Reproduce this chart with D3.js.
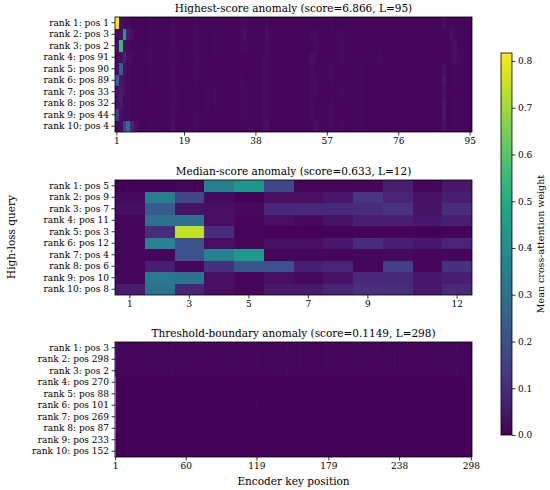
<!DOCTYPE html>
<html>
<head>
<meta charset="utf-8">
<script src="https://cdn.jsdelivr.net/npm/d3@7"></script>
<style>
html,body{margin:0;padding:0;background:#fff;}
svg{display:block;}
text{font-family:"DejaVu Serif",serif;fill:#000;}
</style>
</head>
<body>
<svg id="chart" width="550" height="490"></svg>
<script>
// ---------- DATA ----------
const vmax = 0.817;
const cbTicks = [0.0, 0.1, 0.2, 0.3, 0.4, 0.5, 0.6, 0.7, 0.8];

// level lookup for string-encoded rows (char -> value)
const levelChars  = "0123456789abcdefghijkl";
const levelValues = [0.005,0.012,0.02,0.03,0.045,0.06,0.08,0.11,0.15,0.2,0.25,0.3,0.35,0.4,0.45,0.5,0.55,0.6,0.65,0.7,0.75,0.817];

// Panel 1: highest-score anomaly, L=95
const topTitle = "Highest-score anomaly (score=6.866, L=95)";
const topLabels = ["rank 1: pos 1","rank 2: pos 3","rank 3: pos 2","rank 4: pos 91","rank 5: pos 90","rank 6: pos 89","rank 7: pos 33","rank 8: pos 32","rank 9: pos 44","rank 10: pos 4"];
const topTicks = [1, 19, 38, 57, 76, 95];
const topRows = [
  "l322111112 1111121111 1211111111 1112211111 2111111111 1111111211 1111111111 1111111111 1111111311 11111",
  "23e5311112 1111121111 1211112111 1112311111 3111111111 1122111112 2111111111 1111111111 1111111113 21111",
  "3g32111112 1111121111 1211112111 1112211111 2111111111 1112111111 2111111111 1111111111 1111111112 31111",
  "2363211122 1111222111 1221111111 1111111112 2111111111 1132111111 2111111111 2111111111 1111111112 32111",
  "3a32111112 1111121111 1211111111 1111111112 2111111111 1121111211 1111121111 1111111111 1111111311 21111",
  "a432111112 1111121111 1211111111 1112111112 2111111111 1122111211 1111121111 1111111111 1111111411 21111",
  "3532111111 1111122111 1111212111 1112211112 2111111111 1122111111 2111121111 1111111111 1111111311 11111",
  "3522111111 1111122111 1111212111 1112211112 2111111111 1121111211 1111121111 1111111111 1111111411 21111",
  "8322111111 1111121111 1211111111 1112211112 2111111111 1121111211 1111121111 1111111111 1111111411 21111",
  "238b631112 1111131111 1211111111 1111111112 3111111111 1113111211 2111121111 1111111111 1111111311 21111"
];

// Panel 2: median-score anomaly, L=12
const midTitle = "Median-score anomaly (score=0.633, L=12)";
const midLabels = ["rank 1: pos 5","rank 2: pos 9","rank 3: pos 7","rank 4: pos 11","rank 5: pos 3","rank 6: pos 12","rank 7: pos 4","rank 8: pos 6","rank 9: pos 10","rank 10: pos 8"];
const midTicks = [1, 3, 5, 7, 9, 12];
const midRow1  = [0.005,0.005,0.01,0.35,0.43,0.17,0.01,0.01,0.01,0.07,0.01,0.05];
const midRow2  = [0.02,0.35,0.17,0.02,0.005,0.03,0.03,0.05,0.13,0.08,0.04,0.07];
const midRow3  = [0.03,0.23,0.04,0.03,0.02,0.09,0.09,0.09,0.10,0.12,0.04,0.10];
const midRow4  = [0.01,0.30,0.30,0.03,0.01,0.03,0.02,0.04,0.07,0.07,0.05,0.07];
const midRow5  = [0.01,0.10,0.74,0.11,0.01,0.005,0.005,0.005,0.005,0.005,0.005,0.005];
const midRow6  = [0.01,0.36,0.20,0.03,0.01,0.03,0.03,0.05,0.10,0.07,0.05,0.08];
const midRow7  = [0.01,0.01,0.20,0.36,0.44,0.01,0.01,0.01,0.01,0.02,0.01,0.01];
const midRow8  = [0.01,0.07,0.01,0.11,0.22,0.20,0.07,0.08,0.01,0.15,0.01,0.12];
const midRow9  = [0.01,0.33,0.31,0.03,0.01,0.03,0.02,0.04,0.09,0.09,0.05,0.07];
const midRow10 = [0.06,0.31,0.08,0.03,0.01,0.05,0.05,0.08,0.11,0.10,0.05,0.09];

// Panel 3: threshold-boundary anomaly, L=298
const botTitle = "Threshold-boundary anomaly (score=0.1149, L=298)";
const botLabels = ["rank 1: pos 3","rank 2: pos 298","rank 3: pos 2","rank 4: pos 270","rank 5: pos 88","rank 6: pos 101","rank 7: pos 269","rank 8: pos 87","rank 9: pos 233","rank 10: pos 152"];
const botTicks = [1, 60, 119, 179, 238, 298];
const botRows = [
  "8321111111 1111111111 1111211111 1111111111 1111111211 1111111111 1111111112 1111111111 1111111111 1111211111 1111111111 1111111112 1111111111 1111111111 1112111111 1111211111 1111121111 1111113111 1111121111 1111111111 1111211111 1111111112 1111111111 1112111111 1111111112 1111111111 1111111111 1211111111 1111121111 11111111",
  "9321111111 1111111111 1111112111 1111111111 1111111111 1111111112 1111111111 1111111111 1111121111 1111111111 1111111111 1111111121 1111111111 1111111111 1111211111 1111211111 1111111111 1111113111 1111111111 1111111111 1111211111 1111111111 1111111111 1113111111 1111111111 1111111111 1111111112 1211111111 1111111111 11111121",
  "9211111111 1111111111 1111211111 1111111111 1111111211 1111111111 1111111111 1111111111 1111111111 1111211111 1111111111 1111111112 1111111111 1111111111 1112111111 1111111111 1111121111 1111112111 1111111111 1111111111 1111211111 1111111111 1111111111 1112111111 1111111111 1111111111 1111111111 1211111111 1111121111 11111111",
  "k100000000 0000000000 0000000000 0000000000 0000000000 0000000001 0000000000 0000000000 0000000000 0000000000 0000000000 0000000000 0000000000 0000000000 0000000000 0000000000 0000000000 0000001000 0000000000 0000000000 0000000000 0000000000 0000000000 0001000000 0000000000 0000000000 0000000000 0100000000 0000000000 00000000",
  "k100000000 0000000000 0000000000 0000000000 0000000000 0000000000 0000000000 0000000000 0000000000 0000000000 0000000000 0000000000 0000000000 0000000000 0000000000 0000000000 0000000000 0000001000 0000000000 0000000000 0000000000 0000000000 0000000000 0001000000 0000000000 0000000000 0000000000 0100000000 0000000000 00000000",
  "k000000000 0000000000 0000000000 0000000000 0000000000 0000000000 0000000000 0000000000 0000000000 0000000000 0000000000 0000000010 0000000000 0000000000 0000000000 0000000000 0000000000 0000001000 0000000000 0000000000 0000000000 0000000000 0000000000 0001000000 0000000000 0000000000 0000000000 0100000000 0000000000 00000000",
  "j100000000 0000000000 0000000000 0000000000 0000000000 0000000000 0000000000 0000000000 0000000000 0000000000 0000000000 0000000000 0000000000 0000000000 0000000000 0000000000 0000000000 0000001000 0000000000 0000000000 0000000000 0000000000 0000000000 0001000000 0000000000 0000000000 0000000000 0100000000 0000000000 00000000",
  "j000000000 0000000000 0000000000 0000000000 0000000000 0000000000 0000000000 0000000000 0000000000 0000000000 0000000000 0000000000 0000000000 0000000000 0000000000 0000000000 0000000000 0000001000 0000000000 0000000000 0000000000 0000000000 0000000000 0001000000 0000000000 0000000000 0000000000 0100000000 0000000000 00000000",
  "h100000000 0000000000 0000000000 0000000000 0000000000 0000000000 0000000000 0000000000 0000000000 0000000000 0000000000 0000000000 0000000000 0000000000 0000000000 0000000000 0000000000 0000001000 0000000000 0000000000 0000000000 0000000000 0000000000 0001000000 0000000000 0000000000 0000000000 0100000000 0000000000 00000000",
  "g000000000 0000000000 0000000000 0000000000 0000000000 0000000000 0000000000 0000000000 0000000000 0000000000 0000000000 0000000000 0000000000 0000000000 0000000000 0000000000 0000000000 0000001000 0000000000 0000000000 0000000000 0000000000 0000000000 0001000000 0000000000 0000000000 0000000000 0100000000 0000000000 00000000"
];

const yAxisLabel = "High-loss query";
const xAxisLabel = "Encoder key position";
const cbLabel = "Mean cross-attention weight";

// ---------- BUILD ----------
function decode(s){
  return s.replace(/ /g,"").split("").map(c => levelValues[levelChars.indexOf(c)]);
}
const panels = [
  {title: topTitle, labels: topLabels, ticks: topTicks, rows: topRows.map(decode), top: 17},
  {title: midTitle, labels: midLabels, ticks: midTicks,
   rows: [midRow1,midRow2,midRow3,midRow4,midRow5,midRow6,midRow7,midRow8,midRow9,midRow10], top: 180},
  {title: botTitle, labels: botLabels, ticks: botTicks, rows: botRows.map(decode), top: 342}
];

const svg = d3.select("#chart");
const X0 = 115, X1 = 472, PH = 115;
const color = d3.scaleSequential(d3.interpolateViridis).domain([0, vmax]);

panels.forEach((p, pi) => {
  const ncol = p.rows[0].length;
  const cols = d3.range(1, ncol + 1);
  const x = d3.scaleBand().domain(cols).range([X0, X1]).padding(0);
  const y = d3.scaleBand().domain(p.labels).range([p.top, p.top + PH]).padding(0);
  const clipId = "clip" + pi;
  svg.append("clipPath").attr("id", clipId).append("rect")
    .attr("x", X0).attr("y", p.top).attr("width", X1 - X0).attr("height", PH);
  const g = svg.append("g");
  const cells = [];
  p.rows.forEach((row, i) => row.forEach((v, j) => cells.push({r: p.labels[i], c: j + 1, v})));
  g.append("g").attr("clip-path", `url(#${clipId})`)
    .selectAll("rect.cell").data(cells).join("rect")
    .attr("class", "cell")
    .attr("shape-rendering", "crispEdges")
    .attr("x", d => x(d.c))
    .attr("y", d => y(d.r))
    .attr("width", x.bandwidth() + 1)
    .attr("height", y.bandwidth() + 1)
    .attr("fill", d => color(d.v));

  // frame
  g.append("rect").attr("x", X0).attr("y", p.top).attr("width", X1 - X0).attr("height", PH)
    .attr("fill", "none").attr("stroke", "#000").attr("stroke-width", 0.8);

  // y axis
  const yAx = g.append("g").attr("transform", `translate(${X0},0)`)
    .call(d3.axisLeft(y).tickSize(3.5).tickPadding(2.5));
  // x axis
  const xAx = g.append("g").attr("transform", `translate(0,${p.top + PH})`)
    .call(d3.axisBottom(x).tickValues(p.ticks).tickSize(3.5).tickPadding(2.5));
  [yAx, xAx].forEach(a => {
    a.select(".domain").remove();
    a.selectAll("line").attr("stroke", "#000").attr("stroke-width", 0.8);
    a.selectAll("text").style("font-family", "DejaVu Serif").style("font-size", "9px").attr("fill", "#000");
  });

  // title
  svg.append("text").attr("x", (X0 + X1) / 2).attr("y", p.top - 5)
    .attr("text-anchor", "middle").style("font-size", "10.5px").text(p.title);
});

// axis labels
svg.append("text").attr("transform", `translate(12,${(17 + 457) / 2}) rotate(-90)`)
  .attr("text-anchor", "middle").attr("dominant-baseline", "middle").style("font-size", "10.5px").text(yAxisLabel);
svg.append("text").attr("x", (X0 + X1) / 2).attr("y", 485)
  .attr("text-anchor", "middle").style("font-size", "10.5px").text(xAxisLabel);

// colorbar
const CBX = 501, CBW = 11, CBT = 53, CBB = 435;
const cy = d3.scaleLinear().domain([0, vmax]).range([CBB, CBT]);
const defs = svg.append("defs");
const grad = defs.append("linearGradient").attr("id", "cbgrad")
  .attr("x1", "0").attr("y1", "1").attr("x2", "0").attr("y2", "0");
d3.range(0, 1.0001, 0.05).forEach(t => {
  grad.append("stop").attr("offset", t).attr("stop-color", d3.interpolateViridis(t));
});
svg.append("rect").attr("x", CBX).attr("y", CBT).attr("width", CBW).attr("height", CBB - CBT)
  .attr("fill", "url(#cbgrad)").attr("stroke", "#000").attr("stroke-width", 0.8);
const cbAx = svg.append("g").attr("transform", `translate(${CBX + CBW},0)`)
  .call(d3.axisRight(cy).tickValues(cbTicks).tickFormat(d3.format(".1f")).tickSize(3.5).tickPadding(2.5));
cbAx.select(".domain").remove();
cbAx.selectAll("line").attr("stroke", "#000").attr("stroke-width", 0.8);
cbAx.selectAll("text").style("font-family", "DejaVu Serif").style("font-size", "9px").attr("fill", "#000");
svg.append("text").attr("transform", `translate(541,${(CBT + CBB) / 2}) rotate(-90)`)
  .attr("text-anchor", "middle").attr("dominant-baseline", "middle").style("font-size", "9.5px").text(cbLabel);
</script>
</body>
</html>
